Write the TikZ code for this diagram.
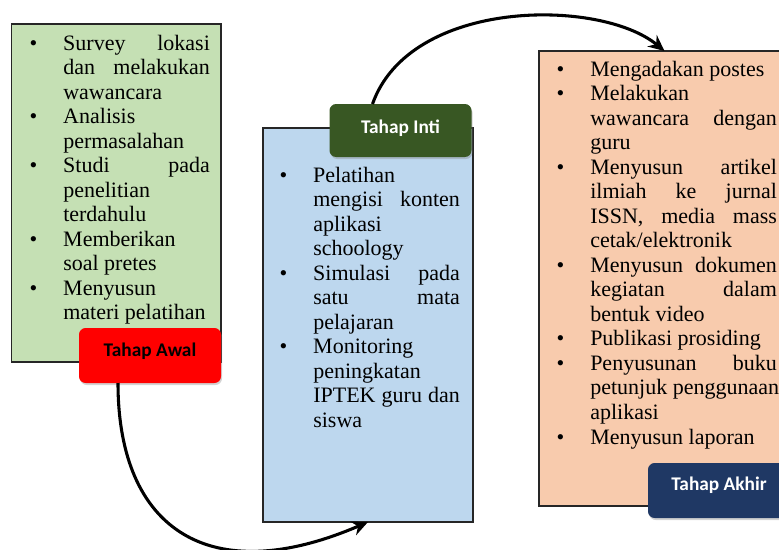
\documentclass[tikz,border=0pt]{standalone}
\usepackage{fontspec}
\setmainfont{Liberation Serif}
\newfontfamily\labfont{Carlito}
\usetikzlibrary{arrows.meta,shadows}
\definecolor{cgreen}{HTML}{C5E0B4}
\definecolor{cblue}{HTML}{BDD7EE}
\definecolor{cpeach}{HTML}{F8CBAD}
\definecolor{cred}{HTML}{FF0000}
\definecolor{cdkgreen}{HTML}{385723}
\definecolor{cnavy}{HTML}{1F3864}
\newcommand{\mybul}{\leavevmode\llap{\textbullet\hspace{19.5pt}}}
\newcommand{\jl}[1]{\makebox[\linewidth][s]{#1}\par}
\newcommand{\rl}[1]{\mbox{#1}\par}
\tikzset{
  bigbox/.style={draw=black!85, line width=1.1pt, inner sep=0pt, outer sep=0pt, rectangle},
  tagbox/.style={rounded corners=5pt, inner sep=0pt, outer sep=0pt, minimum width=106.5pt, minimum height=41.25pt,
    font=\labfont\bfseries\fontsize{14.5}{17}\selectfont, text height=10pt, text depth=9.5pt,
    drop shadow={opacity=0.35,shadow xshift=0.8pt,shadow yshift=-1.5pt}},
  itemtext/.style={anchor=base west, inner sep=0pt, font=\fontsize{16.5}{18.4}\selectfont},
  flow/.style={line width=2.3pt, -{Stealth[length=12pt,width=11pt]}}
}
\begin{document}
\begin{tikzpicture}[x=0.75pt,y=-0.75pt]
\useasboundingbox (0,0) rectangle (779,550);
% big boxes
\node[bigbox, fill=cgreen, minimum width=157.1pt, minimum height=253.5pt] (awalbox) at (116.25,193) {};
\node[bigbox, fill=cblue, minimum width=157.5pt, minimum height=295.5pt] (intibox) at (368,325) {};
\node[bigbox, fill=cpeach, minimum width=188.25pt, minimum height=341.25pt] (akhirbox) at (664.5,278.5) {};
% texts
\node[itemtext] (awaltext) at (63,50) {\parbox[t]{110pt}{%
\mybul\jl{Survey lokasi}
\jl{dan melakukan}
\rl{wawancara}
\mybul\rl{Analisis}
\rl{permasalahan}
\mybul\jl{Studi pada}
\rl{penelitian}
\rl{terdahulu}
\mybul\rl{Memberikan}
\rl{soal pretes}
\mybul\rl{Menyusun}
\rl{materi pelatihan}}};
\node[itemtext] (intitext) at (313,182) {\parbox[t]{110pt}{%
\mybul\rl{Pelatihan}
\jl{mengisi konten}
\rl{aplikasi}
\rl{schoology}
\mybul\jl{Simulasi pada}
\jl{satu mata}
\rl{pelajaran}
\mybul\rl{Monitoring}
\rl{peningkatan}
\jl{IPTEK guru dan}
\rl{siswa}}};
\node[itemtext] (akhirtext) at (590,76) {\parbox[t]{140pt}{%
\mybul\rl{Mengadakan postes}
\mybul\rl{Melakukan}
\jl{wawancara dengan}
\rl{guru}
\mybul\jl{Menyusun artikel}
\jl{ilmiah ke jurnal}
\jl{ISSN, media mass}
\rl{cetak/elektronik}
\mybul\jl{Menyusun dokumen}
\jl{kegiatan dalam}
\rl{bentuk video}
\mybul\rl{Publikasi prosiding}
\mybul\jl{Penyusunan buku}
\rl{petunjuk penggunaan}
\rl{aplikasi}
\mybul\rl{Menyusun laporan}}};
% tags
\node[tagbox, fill=cred, text=black, text depth=8pt] (awal) at (150,355.5) {Tahap Awal};
\node[tagbox, fill=cdkgreen, text=white, minimum height=39.75pt, text depth=5pt] (inti) at (400.5,130.5) {Tahap Inti};
\node[tagbox, fill=cnavy, text=white] (akhir) at (719,490.5) {Tahap Akhir};
% connectors
\draw[flow] ([xshift=-24pt]awal.south) .. controls (118,530) and (210,590) .. (intibox.south);
\draw[flow] ([xshift=-21pt]inti.north) .. controls (410,-2) and (600,-2) .. (akhirbox.north);
\end{tikzpicture}
\end{document}
